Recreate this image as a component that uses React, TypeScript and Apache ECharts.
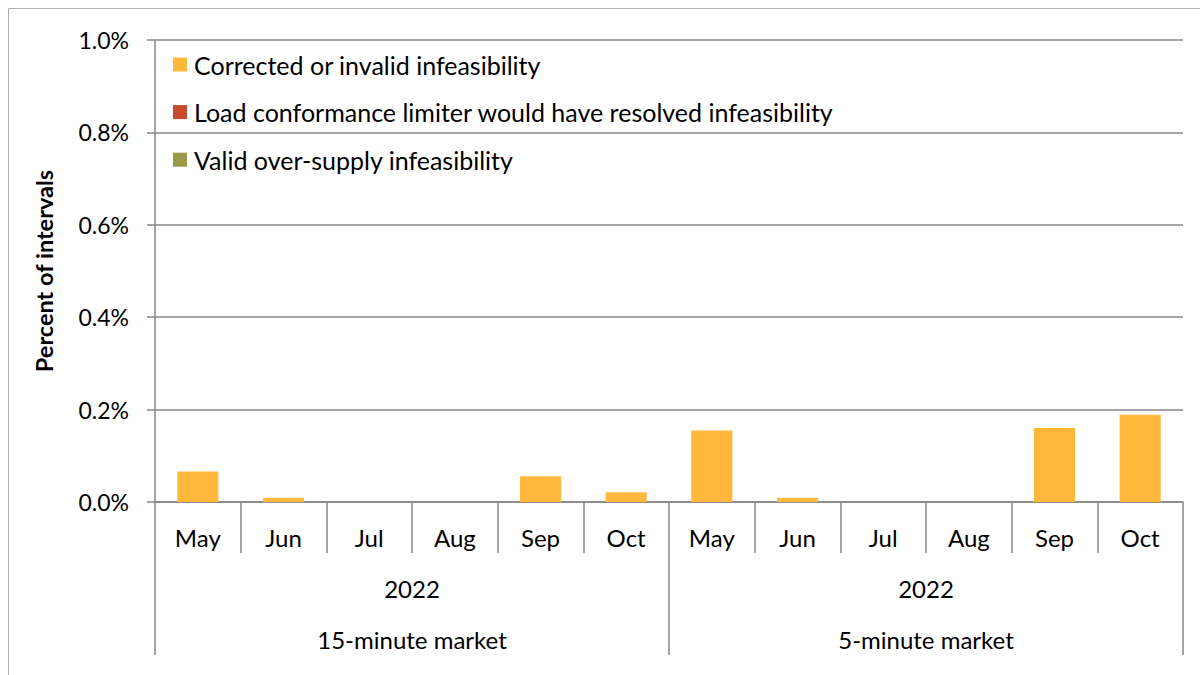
import React, { useEffect, useRef } from "react";
import * as echarts from "echarts";

const months = ["May", "Jun", "Jul", "Aug", "Sep", "Oct", "May", "Jun", "Jul", "Aug", "Sep", "Oct"];
const markets = ["15-minute market", "5-minute market"];
const yearLabel = "2022";
const seriesNames = [
  "Corrected or invalid infeasibility",
  "Load conformance limiter would have resolved infeasibility",
  "Valid over-supply infeasibility",
];
const corrected = [0.066, 0.009, 0, 0, 0.056, 0.021, 0.155, 0.009, 0, 0, 0.16, 0.189];
const loadConformance = [0, 0, 0, 0, 0, 0, 0, 0, 0, 0, 0, 0];
const validOversupply = [0, 0, 0, 0, 0, 0, 0, 0, 0, 0, 0, 0];
const yTicks = { min: 0, max: 1.0, interval: 0.2 };

const colors = ["#FFB83C", "#C9492B", "#999A48"];
const axisColor = "#878787";
const font = "Lato";

export default function App() {
  const ref = useRef<HTMLDivElement>(null);
  useEffect(() => {
    if (!ref.current) return;
    const chart = echarts.init(ref.current, null, { renderer: "svg" });
    const values = [corrected, loadConformance, validOversupply];
    chart.setOption({
      animation: false,
      backgroundColor: "#ffffff",
      textStyle: { fontFamily: font },
      graphic: [
        {
          type: "rect",
          shape: { x: 8.5, y: 8.5, width: 1300, height: 800 },
          style: { fill: "none", stroke: "#b0b0b0", lineWidth: 1 },
          silent: true,
        },
      ],
      grid: { left: 155, right: 17, top: 40, bottom: 173 },
      legend: {
        orient: "vertical",
        left: 168,
        top: 47,
        itemWidth: 14,
        itemHeight: 14,
        itemGap: 22.6,
        icon: "rect",
        data: seriesNames,
        textStyle: { fontFamily: font, fontSize: 25, lineHeight: 25, color: "#000", padding: [0, 0, 0, 2] },
      },
      yAxis: {
        type: "value",
        min: yTicks.min,
        max: yTicks.max,
        interval: yTicks.interval,
        name: "Percent of intervals",
        nameLocation: "middle",
        nameRotate: 90,
        nameGap: 99,
        nameTextStyle: { fontFamily: font, fontSize: 23.5, fontWeight: "bold", color: "#000" },
        axisLine: { show: true, lineStyle: { color: axisColor, width: 1.5 } },
        axisTick: { show: true, length: 8, lineStyle: { color: axisColor, width: 1.5 } },
        splitLine: { show: true, lineStyle: { color: axisColor, width: 1.5 } },
        axisLabel: {
          margin: 26,
          fontFamily: font,
          fontSize: 23,
          color: "#000",
          formatter: (v: number) => v.toFixed(1) + "%",
        },
      },
      xAxis: [
        {
          type: "category",
          data: months,
          position: "bottom",
          axisLine: { show: true, lineStyle: { color: axisColor, width: 1.5 } },
          axisTick: { show: true, length: 51, interval: 0, lineStyle: { color: axisColor, width: 1.5 } },
          axisLabel: { interval: 0, margin: 23, fontFamily: font, fontSize: 24, lineHeight: 24, color: "#000" },
        },
        {
          type: "category",
          data: markets,
          position: "bottom",
          offset: 51,
          axisLine: { show: false },
          axisTick: { show: true, length: 102, interval: 0, lineStyle: { color: axisColor, width: 1.5 } },
          axisLabel: {
            interval: 0,
            margin: 10,
            fontFamily: font,
            fontSize: 24,
            lineHeight: 51,
            color: "#000",
            formatter: (v: string) => yearLabel + "\n" + v,
          },
        },
      ],
      series: seriesNames.map((name, i) => ({
        name,
        type: "bar",
        stack: "total",
        xAxisIndex: 0,
        barWidth: "48%",
        data: values[i],
        itemStyle: { color: colors[i] },
      })),
    });
    return () => chart.dispose();
  }, []);
  return <div ref={ref} style={{ position: "absolute", left: 0, top: 0, width: 1200, height: 675 }} />;
}
